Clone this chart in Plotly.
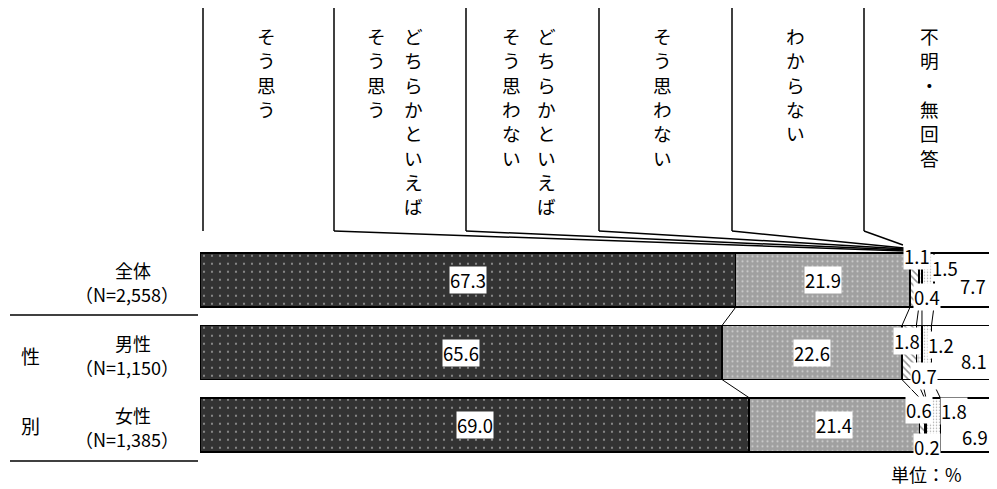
import plotly.graph_objects as go

categories = ["そう思う", "どちらかといえばそう思う", "どちらかといえばそう思わない",
              "そう思わない", "わからない", "不明・無回答"]
header_cols = [["そう思う"], ["どちらかといえば", "そう思う"], ["どちらかといえば", "そう思わない"],
               ["そう思わない"], ["わからない"], ["不明・無回答"]]
groups = ["全体", "男性", "女性"]
group_n = ["（N=2,558）", "（N=1,150）", "（N=1,385）"]
zentai = [67.3, 21.9, 1.1, 0.4, 1.5, 7.7]
dansei = [65.6, 22.6, 1.8, 0.7, 1.2, 8.1]
josei = [69.0, 21.4, 0.6, 0.2, 1.8, 6.9]
rows = [zentai, dansei, josei]

# page body has an 8px margin, so the figure is drawn 8px in from the corner
OFF = 8
W, H = 997 - OFF, 489 - OFF
JP = "Noto Sans CJK JP"

def px(x):
    return (x - OFF) / W

def py(y):
    return 1 - (y - OFF) / H

# fill styles per category
styles = [
    dict(color="#333333", pattern=dict(shape=".", fgcolor="#ffffff", size=8, solidity=0.06, fillmode="overlay")),
    dict(color="#a0a0a0", pattern=dict(shape=".", fgcolor="#ffffff", size=5, solidity=0.14, fillmode="overlay")),
    dict(color="#ffffff", pattern=dict(shape="\\", fgcolor="#222222", size=5, solidity=0.3, fillmode="overlay")),
    dict(color="#ffffff", pattern=dict(shape="+", fgcolor="#222222", size=4, solidity=0.25, fillmode="overlay")),
    dict(color="#ffffff", pattern=dict(shape=".", fgcolor="#555555", size=3, solidity=0.2, fillmode="overlay")),
    dict(color="#ffffff"),
]

ypos = [0, 1, 2]
bw = 0.75

fig = go.Figure()
for k, cat in enumerate(categories):
    fig.add_trace(go.Bar(
        y=ypos, x=[r[k] for r in rows], name=cat, orientation="h", width=bw,
        marker=dict(line=dict(color="black", width=1.5), **styles[k]),
        hoverinfo="x+name",
    ))

# label offsets (px) for the small segments
shifts = [
    [(0, 0), (0, 0), (3, 24), (7, -17), (17, 12), (8, -6)],
    [(0, 0), (0, 0), (-2, 12), (5, -23), (14, 8), (10, -8)],
    [(0, 0), (0, 0), (-3, 15), (2, -22), (21, 14), (7, -12)],
]

annotations = []
cums = []
for i, r in enumerate(rows):
    c = 0
    cum = []
    for k, v in enumerate(r):
        annotations.append(dict(
            x=c + v / 2, y=ypos[i], xref="x", yref="y", text=f"{v:.1f}",
            showarrow=False, bgcolor="white", borderpad=0, xanchor="center", yanchor="middle",
            xshift=shifts[i][k][0], yshift=shifts[i][k][1],
            font=dict(family=JP, size=18.5, color="black"),
        ))
        c += v
        cum.append(c)
    cums.append(cum)

shapes = []
# series lines between bars
for i in range(len(rows) - 1):
    for k in range(5):
        shapes.append(dict(type="line", xref="x", yref="y",
                           x0=cums[i][k], y0=ypos[i] + bw / 2,
                           x1=cums[i + 1][k], y1=ypos[i + 1] - bw / 2,
                           line=dict(color="black", width=1)))

# header columns
col_lines = [203, 334, 466, 599, 732, 864]
leader_end = [None, (905, 251), (905, 250), (905, 249), (904, 248), (903, 245)]
for j, xl in enumerate(col_lines):
    shapes.append(dict(type="line", xref="paper", yref="paper",
                       x0=px(xl), y0=py(8), x1=px(xl), y1=py(231),
                       line=dict(color="black", width=1.5)))
    if leader_end[j]:
        ex, ey = leader_end[j]
        shapes.append(dict(type="line", xref="paper", yref="paper",
                           x0=px(xl), y0=py(231), x1=px(ex), y1=py(ey),
                           line=dict(color="black", width=1.5)))

col_text_x = [[266], [413, 376], [546, 511], [662], [795], [929]]
for j, lines in enumerate(header_cols):
    for t, xx in zip(lines, col_text_x[j]):
        annotations.append(dict(
            x=px(xx), y=py(20), xref="paper", yref="paper", xanchor="center", yanchor="top",
            text="<br>".join(list(t)), showarrow=False,
            font=dict(family=JP, size=18.7, color="black"),
        ))

# row labels
for i, g in enumerate(groups):
    annotations.append(dict(x=px(133), y=ypos[i], xref="paper", yref="y", yshift=10,
                            xanchor="center", yanchor="middle",
                            text=g, showarrow=False, font=dict(family=JP, size=18, color="black")))
    annotations.append(dict(x=px(127), y=ypos[i], xref="paper", yref="y", yshift=-14,
                            xanchor="center", yanchor="middle",
                            text=group_n[i], showarrow=False, font=dict(family=JP, size=18, color="black")))

side = [("性", 355), ("別", 425)]
for t, yy in side:
    annotations.append(dict(x=px(30), y=py(yy), xref="paper", yref="paper", text=t,
                            xanchor="center", yanchor="middle",
                            showarrow=False, font=dict(family=JP, size=19, color="black")))
annotations.append(dict(x=px(926), y=py(474), xref="paper", yref="paper", text="単位：%",
                        xanchor="center", yanchor="middle",
                        showarrow=False, font=dict(family=JP, size=18, color="black")))

for yy in [315, 461]:
    shapes.append(dict(type="line", xref="paper", yref="paper",
                       x0=px(10), y0=py(yy), x1=px(198), y1=py(yy),
                       line=dict(color="black", width=1.5)))

fig.update_layout(
    width=W, height=H,
    barmode="stack", showlegend=False,
    margin=dict(l=0, r=0, t=0, b=0),
    paper_bgcolor="white", plot_bgcolor="white",
    xaxis=dict(range=[0, 100], domain=[px(200), px(996)], visible=False, fixedrange=True),
    yaxis=dict(range=[2.5, -0.5], domain=[py(461.25), py(243.75)], visible=False, fixedrange=True),
    annotations=annotations, shapes=shapes,
)

fig.write_html("out.html")
